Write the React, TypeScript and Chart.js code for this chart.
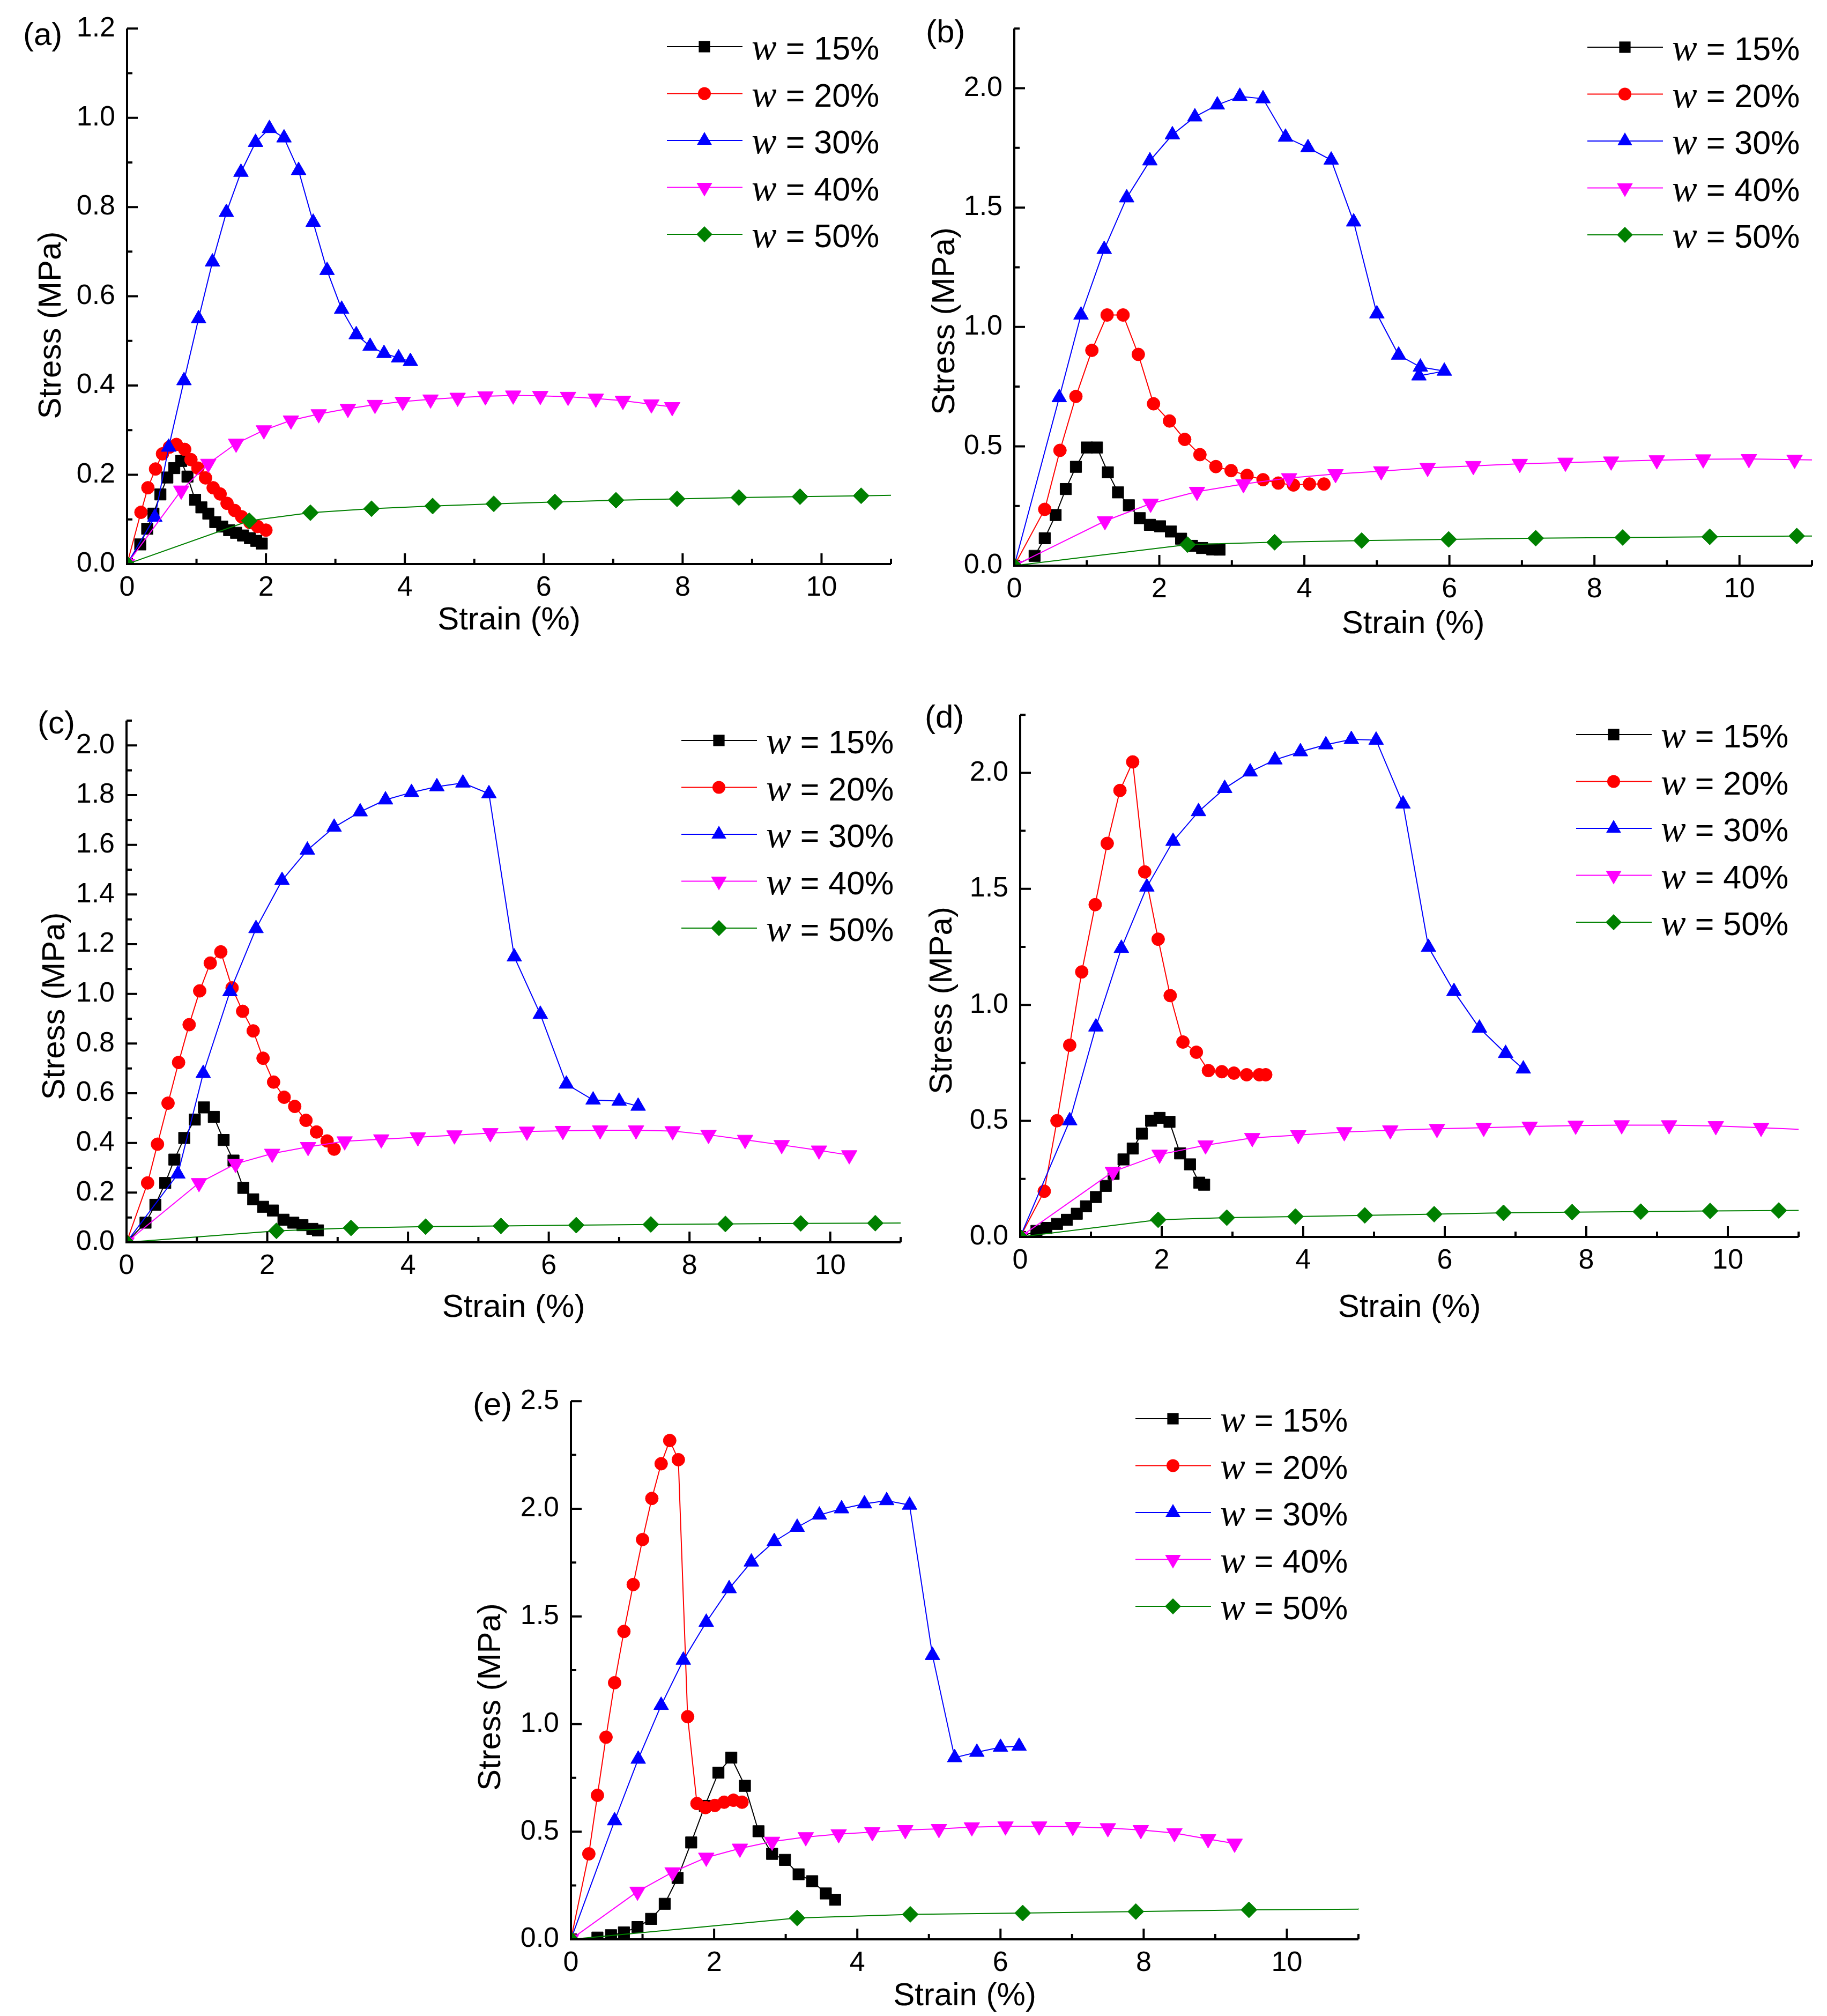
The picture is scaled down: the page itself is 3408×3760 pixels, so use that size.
import { useEffect, useRef } from 'react'
import { Chart, registerables } from 'chart.js'

Chart.register(...registerables)

// series: moisture content w
const SERIES = ['15%', '20%', '30%', '40%', '50%']
const COLORS = ['#000000', '#ff0000', '#0000ff', '#ff00ff', '#008000']
const MARKERS = ['rect', 'circle', 'triangle', 'triangleDown', 'diamond']

// (a) strain %, stress MPa
const A15 = [[0, 0], [0.19, 0.044], [0.29, 0.079], [0.38, 0.113], [0.48, 0.156], [0.58, 0.194], [0.68, 0.215], [0.78, 0.231], [0.87, 0.196], [0.98, 0.144], [1.07, 0.127], [1.17, 0.113], [1.27, 0.094], [1.37, 0.084], [1.47, 0.076], [1.57, 0.07], [1.67, 0.064], [1.77, 0.058], [1.86, 0.052], [1.94, 0.046]]
const A20 = [[0, 0], [0.2, 0.116], [0.3, 0.171], [0.41, 0.213], [0.51, 0.247], [0.61, 0.262], [0.71, 0.268], [0.83, 0.257], [0.92, 0.234], [1.02, 0.215], [1.13, 0.193], [1.24, 0.171], [1.34, 0.157], [1.44, 0.136], [1.55, 0.12], [1.65, 0.106], [1.77, 0.093], [1.88, 0.084], [2.0, 0.076]]
const A30 = [[0, 0], [0.4, 0.105], [0.6, 0.262], [0.82, 0.411], [1.03, 0.55], [1.23, 0.677], [1.43, 0.788], [1.64, 0.878], [1.85, 0.945], [2.05, 0.976], [2.26, 0.955], [2.47, 0.882], [2.68, 0.766], [2.88, 0.658], [3.09, 0.571], [3.3, 0.514], [3.5, 0.488], [3.7, 0.472], [3.91, 0.462], [4.08, 0.454]]
const A40 = [[0, 0], [0.78, 0.165], [1.17, 0.225], [1.57, 0.27], [1.97, 0.3], [2.36, 0.322], [2.76, 0.336], [3.18, 0.348], [3.57, 0.357], [3.97, 0.364], [4.37, 0.369], [4.76, 0.373], [5.16, 0.376], [5.56, 0.378], [5.95, 0.377], [6.35, 0.375], [6.75, 0.371], [7.14, 0.366], [7.55, 0.358], [7.85, 0.352]]
const A50 = [[0, 0], [1.76, 0.097], [2.64, 0.115], [3.52, 0.124], [4.4, 0.13], [5.28, 0.135], [6.16, 0.139], [7.04, 0.143], [7.92, 0.146], [8.81, 0.149], [9.69, 0.151], [10.57, 0.153], [11.45, 0.155]]

// (b)
const B15 = [[0, 0], [0.28, 0.041], [0.42, 0.115], [0.57, 0.212], [0.71, 0.321], [0.85, 0.414], [1.0, 0.495], [1.14, 0.495], [1.29, 0.391], [1.43, 0.307], [1.58, 0.253], [1.73, 0.199], [1.87, 0.171], [2.01, 0.165], [2.16, 0.143], [2.3, 0.113], [2.45, 0.083], [2.59, 0.074], [2.73, 0.068], [2.83, 0.067]]
const B20 = [[0, 0], [0.42, 0.236], [0.63, 0.483], [0.85, 0.709], [1.07, 0.902], [1.28, 1.05], [1.5, 1.05], [1.71, 0.885], [1.92, 0.678], [2.14, 0.606], [2.35, 0.529], [2.56, 0.465], [2.78, 0.415], [2.99, 0.398], [3.21, 0.378], [3.43, 0.36], [3.64, 0.346], [3.85, 0.338], [4.07, 0.342], [4.27, 0.342]]
const B30 = [[0, 0], [0.62, 0.704], [0.92, 1.05], [1.24, 1.325], [1.55, 1.541], [1.87, 1.696], [2.18, 1.805], [2.49, 1.88], [2.8, 1.93], [3.11, 1.966], [3.43, 1.956], [3.74, 1.795], [4.05, 1.751], [4.37, 1.699], [4.68, 1.44], [5.0, 1.055], [5.3, 0.882], [5.6, 0.832], [5.93, 0.815], [5.58, 0.795]]
const B40 = [[0, 0], [1.25, 0.187], [1.88, 0.26], [2.52, 0.31], [3.16, 0.342], [3.79, 0.367], [4.43, 0.384], [5.06, 0.396], [5.7, 0.41], [6.33, 0.418], [6.97, 0.427], [7.6, 0.432], [8.23, 0.437], [8.86, 0.442], [9.5, 0.446], [10.13, 0.447], [10.76, 0.444], [11.39, 0.441]]
const B50 = [[0, 0], [2.39, 0.088], [3.59, 0.098], [4.79, 0.105], [5.99, 0.11], [7.19, 0.115], [8.39, 0.118], [9.59, 0.121], [10.79, 0.124], [11.99, 0.126]]

// (c)
const C15 = [[0, 0], [0.27, 0.079], [0.41, 0.151], [0.55, 0.239], [0.68, 0.333], [0.82, 0.42], [0.97, 0.494], [1.1, 0.543], [1.24, 0.505], [1.38, 0.412], [1.52, 0.329], [1.66, 0.219], [1.8, 0.173], [1.94, 0.143], [2.08, 0.128], [2.23, 0.091], [2.37, 0.079], [2.5, 0.069], [2.64, 0.054], [2.72, 0.048]]
const C20 = [[0, 0], [0.3, 0.239], [0.44, 0.395], [0.59, 0.56], [0.74, 0.724], [0.89, 0.876], [1.04, 1.012], [1.19, 1.124], [1.34, 1.169], [1.5, 1.024], [1.65, 0.93], [1.8, 0.851], [1.94, 0.741], [2.09, 0.645], [2.24, 0.584], [2.39, 0.547], [2.55, 0.491], [2.7, 0.444], [2.85, 0.408], [2.95, 0.375]]
const C30 = [[0, 0], [0.73, 0.275], [1.09, 0.68], [1.47, 1.009], [1.84, 1.263], [2.21, 1.457], [2.57, 1.579], [2.95, 1.671], [3.32, 1.733], [3.68, 1.781], [4.05, 1.811], [4.41, 1.834], [4.78, 1.849], [5.15, 1.806], [5.51, 1.149], [5.88, 0.918], [6.25, 0.637], [6.63, 0.573], [7.0, 0.568], [7.27, 0.548]]
const C40 = [[0, 0], [1.03, 0.239], [1.55, 0.316], [2.07, 0.357], [2.58, 0.384], [3.1, 0.407], [3.62, 0.415], [4.14, 0.423], [4.66, 0.431], [5.17, 0.44], [5.69, 0.446], [6.2, 0.449], [6.73, 0.451], [7.24, 0.451], [7.76, 0.448], [8.27, 0.433], [8.79, 0.413], [9.31, 0.392], [9.84, 0.37], [10.27, 0.351]]
const C50 = [[0, 0], [2.13, 0.046], [3.19, 0.058], [4.25, 0.063], [5.32, 0.066], [6.39, 0.069], [7.45, 0.072], [8.51, 0.074], [9.58, 0.076], [10.64, 0.077], [11.7, 0.079]]

// (d)
const D15 = [[0, 0], [0.23, 0.026], [0.37, 0.039], [0.52, 0.056], [0.66, 0.074], [0.8, 0.1], [0.93, 0.132], [1.07, 0.172], [1.21, 0.22], [1.32, 0.272], [1.46, 0.334], [1.59, 0.381], [1.72, 0.445], [1.85, 0.501], [1.97, 0.513], [2.11, 0.496], [2.26, 0.36], [2.4, 0.313], [2.53, 0.234], [2.6, 0.225]]
const D20 = [[0, 0], [0.34, 0.197], [0.52, 0.501], [0.7, 0.826], [0.87, 1.142], [1.06, 1.432], [1.23, 1.696], [1.41, 1.924], [1.59, 2.047], [1.76, 1.573], [1.95, 1.283], [2.12, 1.04], [2.3, 0.84], [2.49, 0.796], [2.66, 0.717], [2.85, 0.712], [3.02, 0.706], [3.2, 0.699], [3.38, 0.699], [3.47, 0.699]]
const D30 = [[0, 0], [0.7, 0.501], [1.07, 0.905], [1.43, 1.244], [1.79, 1.508], [2.16, 1.705], [2.52, 1.833], [2.89, 1.933], [3.25, 2.004], [3.6, 2.056], [3.96, 2.091], [4.32, 2.121], [4.68, 2.144], [5.03, 2.141], [5.41, 1.866], [5.77, 1.248], [6.13, 1.058], [6.49, 0.9], [6.86, 0.791], [7.11, 0.724]]
const D40 = [[0, 0], [1.31, 0.281], [1.97, 0.355], [2.62, 0.395], [3.28, 0.427], [3.93, 0.439], [4.58, 0.452], [5.23, 0.46], [5.89, 0.466], [6.55, 0.471], [7.2, 0.476], [7.85, 0.48], [8.5, 0.482], [9.17, 0.482], [9.83, 0.478], [10.47, 0.471], [11.13, 0.462]]
const D50 = [[0, 0], [1.95, 0.074], [2.92, 0.083], [3.89, 0.088], [4.87, 0.093], [5.85, 0.098], [6.83, 0.104], [7.8, 0.107], [8.77, 0.109], [9.75, 0.112], [10.72, 0.114], [11.7, 0.116]]

// (e)
const E15 = [[0, 0], [0.37, 0.008], [0.56, 0.019], [0.74, 0.032], [0.93, 0.057], [1.12, 0.095], [1.31, 0.165], [1.49, 0.285], [1.68, 0.45], [1.87, 0.62], [2.06, 0.774], [2.24, 0.844], [2.43, 0.713], [2.62, 0.502], [2.81, 0.397], [2.99, 0.369], [3.18, 0.302], [3.37, 0.27], [3.56, 0.213], [3.69, 0.184]]
const E20 = [[0, 0], [0.25, 0.397], [0.37, 0.669], [0.49, 0.939], [0.61, 1.192], [0.74, 1.43], [0.87, 1.648], [1.0, 1.857], [1.13, 2.048], [1.26, 2.209], [1.38, 2.317], [1.5, 2.228], [1.63, 1.034], [1.76, 0.631], [1.88, 0.612], [2.01, 0.622], [2.14, 0.637], [2.27, 0.646], [2.39, 0.637]]
const E30 = [[0, 0], [0.61, 0.551], [0.94, 0.837], [1.26, 1.087], [1.57, 1.297], [1.89, 1.473], [2.21, 1.629], [2.52, 1.753], [2.84, 1.848], [3.16, 1.914], [3.47, 1.971], [3.78, 2.0], [4.1, 2.023], [4.41, 2.038], [4.73, 2.017], [5.05, 1.319], [5.36, 0.844], [5.67, 0.869], [6.0, 0.892], [6.26, 0.897]]
const E40 = [[0, 0], [0.93, 0.222], [1.42, 0.312], [1.89, 0.38], [2.36, 0.422], [2.81, 0.454], [3.28, 0.475], [3.74, 0.489], [4.21, 0.498], [4.67, 0.508], [5.14, 0.513], [5.6, 0.521], [6.07, 0.525], [6.54, 0.525], [7.01, 0.523], [7.5, 0.517], [7.96, 0.508], [8.43, 0.494], [8.9, 0.466], [9.27, 0.445]]
const E50 = [[0, 0], [3.16, 0.099], [4.74, 0.116], [6.31, 0.122], [7.89, 0.129], [9.47, 0.137], [11.1, 0.14]]

// axes
const PANEL_TAGS = ['(a)', '(b)', '(c)', '(d)', '(e)']
const Y_MAX = [1.2, 2.25, 2.1, 2.25, 2.5]
const Y_STEP = [0.1, 0.25, 0.1, 0.25, 0.25]
const X_MAX = 11
const X_STEP = 1
const X_TITLE = 'Strain (%)'
const Y_TITLE = 'Stress (MPa)'

const PANEL_DATA = [
  [A15, A20, A30, A40, A50],
  [B15, B20, B30, B40, B50],
  [C15, C20, C30, C40, C50],
  [D15, D20, D30, D40, D50],
  [E15, E20, E30, E40, E50],
]

// page layout, px: canvas box, plot area, tag, titles, legend
const LAYOUT = [
  { box: [0, 0, 1700, 1250], area: [237, 52, 1662, 1052], tag: [43, 84], yt: [96, 54], xt: 105, leg: [1244, 87] },
  { box: [1700, 0, 1708, 1250], area: [1892, 52, 3380, 1055], tag: [1727, 79], yt: [1763, 45], xt: 109, leg: [2961, 88] },
  { box: [0, 1280, 1700, 1240], area: [236, 1344, 1680, 2317], tag: [70, 1368], yt: [103, 46], xt: 122, leg: [1271, 1381] },
  { box: [1700, 1280, 1708, 1240], area: [1903, 1329, 3355, 2307], tag: [1725, 1357], yt: [1758, 46], xt: 132, leg: [2940, 1370] },
  { box: [840, 2560, 1720, 1200], area: [1065, 2609, 2534, 3617], tag: [882, 2639], yt: [916, 50], xt: 106, leg: [2118, 2646] },
]

const SANS = '"Liberation Sans", Arial, sans-serif'
const SERIF = '"Liberation Serif", "Times New Roman", serif'
const RADIUS: Record<string, number> = { rect: 15, circle: 12, triangle: 16, triangleDown: 17, diamond: 15 }

function drawMarker(ctx: CanvasRenderingContext2D, kind: string, x: number, y: number, color: string) {
  const r = RADIUS[kind]
  ctx.fillStyle = color
  ctx.beginPath()
  if (kind === 'rect') {
    const s = r * Math.SQRT1_2
    ctx.rect(x - s, y - s, 2 * s, 2 * s)
  } else if (kind === 'circle') {
    ctx.arc(x, y, r, 0, Math.PI * 2)
  } else if (kind === 'triangle') {
    ctx.moveTo(x, y - r)
    ctx.lineTo(x + r * 0.866, y + r / 2)
    ctx.lineTo(x - r * 0.866, y + r / 2)
  } else if (kind === 'triangleDown') {
    ctx.moveTo(x, y + r)
    ctx.lineTo(x + r * 0.866, y - r / 2)
    ctx.lineTo(x - r * 0.866, y - r / 2)
  } else {
    ctx.moveTo(x, y - r)
    ctx.lineTo(x + r, y)
    ctx.lineTo(x, y + r)
    ctx.lineTo(x - r, y)
  }
  ctx.closePath()
  ctx.fill()
}

function isMajor(v: number, step: number) {
  return Math.round(v / step) % 2 === 0
}

function Panel({ idx }: { idx: number }) {
  const ref = useRef<HTMLCanvasElement>(null)
  const lay = LAYOUT[idx]
  const [bx, by, bw, bh] = lay.box

  useEffect(() => {
    if (!ref.current) return
    const [L, T, R, B] = lay.area
    const left = L - bx
    const top = T - by
    const right = R - bx
    const bottom = B - by
    const yStep = Y_STEP[idx]

    const decor = {
      id: 'decor' + idx,
      afterDraw(chart: Chart) {
        const ctx = chart.ctx
        const ca = chart.chartArea
        const xs = chart.scales.x
        const ys = chart.scales.y
        ctx.save()
        ctx.strokeStyle = '#000'
        ctx.lineWidth = 4
        ctx.lineCap = 'butt'
        ctx.beginPath()
        ctx.moveTo(ca.left - 2, ca.bottom)
        ctx.lineTo(ca.right, ca.bottom)
        ctx.moveTo(ca.left, ca.top)
        ctx.lineTo(ca.left, ca.bottom + 2)
        for (const t of xs.ticks) {
          const px = xs.getPixelForValue(t.value)
          const len = isMajor(t.value, X_STEP) ? 20 : 10
          ctx.moveTo(px, ca.bottom)
          ctx.lineTo(px, ca.bottom - len)
        }
        for (const t of ys.ticks) {
          const py = ys.getPixelForValue(t.value)
          const len = isMajor(t.value, yStep) ? 20 : 10
          ctx.moveTo(ca.left, py)
          ctx.lineTo(ca.left + len, py)
        }
        ctx.stroke()

        ctx.fillStyle = '#000'
        // axis titles
        ctx.font = `60px ${SANS}`
        ctx.textAlign = 'center'
        ctx.textBaseline = 'middle'
        ctx.fillText(X_TITLE, (ca.left + ca.right) / 2, ca.bottom + lay.xt)
        ctx.save()
        ctx.translate(lay.yt[0] - bx, (ca.top + ca.bottom) / 2 + lay.yt[1])
        ctx.rotate(-Math.PI / 2)
        ctx.fillText(Y_TITLE, 0, 0)
        ctx.restore()

        // panel tag
        ctx.textAlign = 'left'
        ctx.textBaseline = 'alphabetic'
        ctx.fillText(PANEL_TAGS[idx], lay.tag[0] - bx, lay.tag[1] - by)

        // legend
        const lx = lay.leg[0] - bx
        SERIES.forEach((s, i) => {
          const ly = lay.leg[1] - by + i * 87.5
          ctx.strokeStyle = COLORS[i]
          ctx.lineWidth = 2
          ctx.beginPath()
          ctx.moveTo(lx, ly)
          ctx.lineTo(lx + 141, ly)
          ctx.stroke()
          drawMarker(ctx, MARKERS[i], lx + 70, ly, COLORS[i])
          ctx.fillStyle = '#000'
          ctx.font = `italic 70px ${SERIF}`
          ctx.fillText('w', lx + 158, ly + 24)
          const ww = ctx.measureText('w').width
          ctx.font = `61px ${SANS}`
          ctx.fillText(' = ' + s, lx + 158 + ww, ly + 24)
        })
        ctx.restore()
      },
    }

    const chart = new Chart(ref.current, {
      type: 'line',
      data: {
        datasets: PANEL_DATA[idx].map((pts, i) => {
          const kind = MARKERS[i]
          return {
            label: 'w = ' + SERIES[i],
            data: pts.map(([x, y]) => ({ x, y })),
            borderColor: COLORS[i],
            backgroundColor: COLORS[i],
            borderWidth: 2,
            tension: 0,
            fill: false,
            pointStyle: kind === 'rect' ? 'rect' : kind === 'circle' ? 'circle' : kind === 'diamond' ? 'rectRot' : 'triangle',
            pointRotation: kind === 'triangleDown' ? 180 : 0,
            pointRadius: RADIUS[kind],
            pointBackgroundColor: COLORS[i],
            pointBorderColor: COLORS[i],
            pointBorderWidth: 1,
            order: 4 - i,
          }
        }),
      },
      options: {
        responsive: false,
        devicePixelRatio: 1,
        animation: false,
        events: [],
        layout: { padding: { left: 0, top, right: bw - right, bottom: 0 } },
        plugins: { legend: { display: false }, tooltip: { enabled: false } },
        scales: {
          x: {
            type: 'linear',
            position: 'bottom',
            min: 0,
            max: X_MAX,
            grid: { display: false, drawTicks: false },
            border: { display: false },
            ticks: {
              stepSize: X_STEP,
              maxTicksLimit: 100,
              autoSkip: false,
              maxRotation: 0,
              padding: 13,
              color: '#000',
              font: { family: SANS, size: 52 },
              callback: (v: any) => (isMajor(Number(v), X_STEP) ? String(Math.round(Number(v))) : ''),
            },
            afterFit: (s: any) => {
              s.height = bh - bottom
            },
          },
          y: {
            type: 'linear',
            position: 'left',
            min: 0,
            max: Y_MAX[idx],
            grid: { display: false, drawTicks: false },
            border: { display: false },
            ticks: {
              stepSize: yStep,
              maxTicksLimit: 100,
              autoSkip: false,
              padding: 22,
              color: '#000',
              font: { family: SANS, size: 52 },
              callback: (v: any) => (isMajor(Number(v), yStep) ? Number(v).toFixed(1) : ''),
            },
            afterFit: (s: any) => {
              s.width = left
            },
          },
        },
      },
      plugins: [decor],
    } as any)
    return () => chart.destroy()
  }, [idx])

  return (
    <canvas
      ref={ref}
      width={bw}
      height={bh}
      style={{ position: 'absolute', left: bx, top: by, width: bw, height: bh }}
      role="img"
      aria-label={`Stress-strain curves ${PANEL_TAGS[idx]}`}
    />
  )
}

export default function App() {
  useEffect(() => {
    document.body.style.margin = '0'
  }, [])
  return (
    <div style={{ position: 'relative', width: 3408, height: 3760, background: '#fff', overflow: 'hidden' }}>
      {PANEL_TAGS.map((_, i) => (
        <Panel key={i} idx={i} />
      ))}
    </div>
  )
}
